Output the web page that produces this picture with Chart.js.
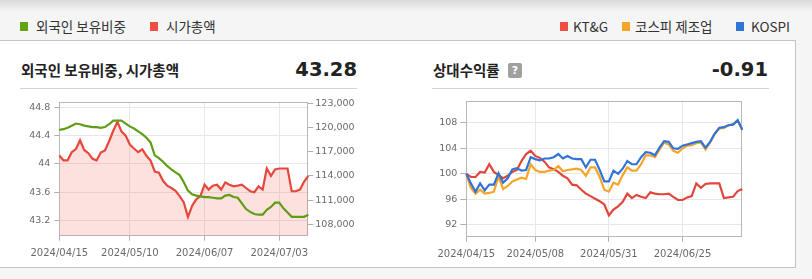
<!DOCTYPE html>
<html><head><meta charset="utf-8">
<script src="https://cdn.jsdelivr.net/npm/chart.js@4"></script>
<style>
html,body{margin:0;padding:0;}
body{width:812px;height:279px;background:#f5f5f5;position:relative;overflow:hidden;font-family:"Noto Sans CJK KR","Noto Sans",sans-serif;}
.shadow{position:absolute;left:0;top:0;width:812px;height:12px;background:linear-gradient(#dadada,#f5f5f5);}
.sq{position:absolute;width:8px;height:9px;top:22px;}
.lg{position:absolute;top:17px;font-size:13.5px;line-height:18px;color:#333;white-space:nowrap;}
.box{position:absolute;left:-1px;top:40px;width:795px;height:226px;background:#fff;border:1px solid #c3c3c3;}
.title{position:absolute;top:59px;font-weight:700;font-size:14.5px;line-height:22px;color:#222;white-space:nowrap;}
.value{position:absolute;top:56px;font-family:"DejaVu Sans",sans-serif;font-weight:700;font-size:19.5px;line-height:28px;color:#222;text-align:right;}
.sep{position:absolute;top:88px;height:1px;background:#d4d4d4;}
.q{position:absolute;left:508px;top:63px;width:14px;height:15px;background:#a0a0a0;border-radius:2px;color:#fff;font:bold 11px "DejaVu Sans",sans-serif;line-height:15px;text-align:center;}
canvas{position:absolute;}
</style>
</head>
<body>
<div class="shadow"></div>
<div class="sq" style="left:20px;background:#62a30f"></div><div class="lg" style="left:36px">외국인 보유비중</div>
<div class="sq" style="left:150px;background:#ee4f42"></div><div class="lg" style="left:166px">시가총액</div>
<div class="sq" style="left:560px;background:#ee4f42"></div><div class="lg" style="left:573px">KT&amp;G</div>
<div class="sq" style="left:622px;background:#f8a427"></div><div class="lg" style="left:635px">코스피 제조업</div>
<div class="sq" style="left:736px;background:#2f74d6"></div><div class="lg" style="left:751px">KOSPI</div>
<div class="box"></div>
<div class="title" style="left:21px">외국인 보유비중, 시가총액</div>
<div class="value" style="left:257px;width:100px">43.28</div>
<div class="sep" style="left:20px;width:337px"></div>
<div class="title" style="left:433px">상대수익률</div>
<div class="q">?</div>
<div class="value" style="left:668px;width:100px">-0.91</div>
<div class="sep" style="left:432px;width:337px"></div>
<canvas id="c1" width="400" height="175" style="left:0;top:92px"></canvas>
<canvas id="c2" width="412" height="175" style="left:400px;top:92px"></canvas>
<script>
const dates = ["2024/04/15","2024/04/16","2024/04/17","2024/04/18","2024/04/19","2024/04/22","2024/04/23","2024/04/24","2024/04/25","2024/04/26","2024/04/29","2024/04/30",
"2024/05/02","2024/05/03","2024/05/07","2024/05/08","2024/05/09","2024/05/10","2024/05/13","2024/05/14","2024/05/16","2024/05/17","2024/05/20","2024/05/21","2024/05/22","2024/05/23","2024/05/24","2024/05/27","2024/05/28","2024/05/29","2024/05/30","2024/05/31",
"2024/06/03","2024/06/04","2024/06/05","2024/06/07","2024/06/10","2024/06/11","2024/06/12","2024/06/13","2024/06/14","2024/06/17","2024/06/18","2024/06/19","2024/06/20","2024/06/21","2024/06/24","2024/06/25","2024/06/26","2024/06/27","2024/06/28",
"2024/07/01","2024/07/02","2024/07/03","2024/07/04","2024/07/05","2024/07/08","2024/07/09","2024/07/10","2024/07/11","2024/07/12"];

const foreignRatio = [44.48,44.49,44.51,44.54,44.57,44.56,44.54,44.53,44.52,44.52,
44.51,44.52,44.56,44.61,44.61,44.61,44.57,44.53,44.50,44.46,
44.42,44.37,44.30,44.12,44.08,44.03,43.97,43.92,43.88,43.84,
43.74,43.62,43.57,43.55,43.54,43.53,43.53,43.52,43.51,43.51,
43.55,43.56,43.53,43.52,43.44,43.36,43.32,43.29,43.28,43.28,
43.35,43.39,43.45,43.45,43.37,43.31,43.25,43.25,43.25,43.25,43.28];

const marketCap = [116540,115935,115935,116940,117339,118427,117218,116818,116129,115935,
116900,117150,118300,119600,120700,119500,119000,117900,117400,116940,
117300,116500,115900,114550,114400,113400,112800,112500,112150,111500,
110700,108900,110286,111097,111496,112911,112306,112790,112911,112306,
113190,112911,112706,112800,112911,112500,112101,111980,112706,112306,
114919,114000,114798,114919,114919,114919,112101,112101,112306,113310,114000];

const ktng = [100.0,99.5,99.5,100.3,100.2,101.5,100.3,99.8,99.3,99.7,
100.3,100.6,102.0,103.1,103.6,102.8,102.5,101.9,101.0,100.7,
100.3,99.7,99.3,98.3,98.2,97.5,96.9,96.5,96.1,95.7,
95.2,93.5,94.4,94.9,95.6,96.9,96.2,96.7,96.4,96.2,
97.1,96.9,96.8,96.8,96.9,96.4,95.9,95.9,96.3,96.5,
98.5,97.8,98.4,98.5,98.5,98.5,96.2,96.3,96.4,97.3,97.6];

const kospiMfg = [100.0,97.8,96.9,97.5,96.9,97.0,97.2,99.6,97.6,98.1,
98.8,99.1,99.4,99.2,101.5,100.6,100.3,100.3,100.5,100.6,
101.2,100.4,100.6,100.7,100.8,100.6,99.7,101.0,101.0,99.5,
97.5,97.2,98.6,98.3,99.8,101.0,100.5,100.5,101.5,102.9,
102.9,102.6,103.8,104.9,104.6,103.6,103.3,104.0,104.4,104.5,
104.8,104.9,103.8,104.9,106.2,107.1,107.2,107.6,107.8,108.3,106.9];

const kospi = [100.0,98.5,97.2,98.5,97.4,98.3,98.3,100.1,98.6,99.3,
100.7,100.9,100.5,100.6,102.6,102.3,102.1,102.4,102.4,102.6,
103.1,102.4,102.8,102.4,102.3,102.3,101.0,102.2,102.2,100.6,
98.8,98.8,100.5,100.0,100.8,102.0,101.5,101.5,102.6,103.4,
103.3,102.9,104.1,105.1,105.0,104.0,103.9,104.4,104.6,104.8,
105.0,105.1,104.1,105.0,106.3,107.2,107.3,107.6,107.7,108.4,106.9];

const leftDateTicks = ["2024/04/15","2024/05/10","2024/06/07","2024/07/03"];
const rightDateTicks = ["2024/04/15","2024/05/08","2024/05/31","2024/06/25"];
const ratioTicks = [43.2,43.6,44.0,44.4,44.8];
const capTicks = [108000,111000,114000,117000,120000,123000];
const returnTicks = [92,96,100,104,108];

const frame = {
  id:'frame',
  beforeDatasetsDraw(chart){
    const a = chart.chartArea, c = chart.ctx;
    c.save(); c.strokeStyle = '#b9b9b9'; c.lineWidth = 1;
    c.strokeRect(Math.round(a.left)+0.5, Math.round(a.top)+0.5, Math.round(a.right-a.left)-1, Math.round(a.bottom-a.top)-1);
    c.restore();
  }
};

const tickFont = {family:'DejaVu Sans', size:9.5};
const xFont = {family:'DejaVu Sans', size:10};
const gridCol = '#e8e8e8', tickCol = '#b0b0b0', labCol = '#6a6a6a';

function xScale(tickDates){
  return {
    type:'category',
    afterBuildTicks: s => { s.ticks = tickDates.map(d => ({value: dates.indexOf(d)})); },
    afterFit: s => { s.height = 26; },
    ticks:{font:xFont, color:labCol, padding:7, maxRotation:0, autoSkip:false, callback: v => dates[v]},
    grid:{color:gridCol, tickColor:tickCol, tickLength:5},
    border:{display:false}
  };
}

new Chart(document.getElementById('c1'), {
  type:'line',
  data:{
    labels: dates,
    datasets:[
      {data: foreignRatio, yAxisID:'y', borderColor:'#5f9e14', borderWidth:2.2, pointRadius:0, fill:false, order:0, tension:0},
      {data: marketCap, yAxisID:'y2', borderColor:'#e8483c', borderWidth:2.2, pointRadius:0, fill:'start', backgroundColor:'rgba(240,90,80,0.18)', order:1, tension:0}
    ]
  },
  options:{
    responsive:false, animation:false,
    layout:{padding:{left:0, right:31.7, top:6.3, bottom:5.3}},
    plugins:{legend:{display:false}, tooltip:{enabled:false}},
    scales:{
      x: xScale(leftDateTicks),
      y:{position:'left', min:42.983, max:44.879,
         afterBuildTicks: s => { s.ticks = ratioTicks.map(v => ({value:v})); },
         afterFit: s => { s.width = 59.3; },
         ticks:{font:tickFont, color:labCol, padding:4, callback: v => String(+v.toFixed(1))},
         grid:{color:gridCol, tickColor:tickCol, tickLength:5}, border:{display:false}},
      y2:{position:'right', min:106585, max:123206,
         afterBuildTicks: s => { s.ticks = capTicks.map(v => ({value:v})); },
         afterFit: s => { s.width = 60; },
         ticks:{font:tickFont, color:labCol, padding:2, callback: v => v.toLocaleString('en-US')},
         grid:{drawOnChartArea:false, tickColor:tickCol, tickLength:5}, border:{display:false}}
    }
  },
  plugins:[frame]
});

new Chart(document.getElementById('c2'), {
  type:'line',
  data:{
    labels: dates,
    datasets:[
      {data: kospi, borderColor:'#2f74d6', borderWidth:2.2, pointRadius:0, fill:false, order:0, tension:0},
      {data: kospiMfg, borderColor:'#f8a427', borderWidth:2.2, pointRadius:0, fill:false, order:1, tension:0},
      {data: ktng, borderColor:'#e2463b', borderWidth:2.2, pointRadius:0, fill:false, order:2, tension:0}
    ]
  },
  options:{
    responsive:false, animation:false,
    layout:{padding:{left:0, right:69.7, top:6.3, bottom:4.3}},
    plugins:{legend:{display:false}, tooltip:{enabled:false}},
    scales:{
      x: xScale(rightDateTicks),
      y:{position:'left', min:90.15, max:111.45,
         afterBuildTicks: s => { s.ticks = returnTicks.map(v => ({value:v})); },
         afterFit: s => { s.width = 66.3; },
         ticks:{font:tickFont, color:labCol, padding:3, callback: v => String(v)},
         grid:{color:gridCol, tickColor:tickCol, tickLength:6}, border:{display:false}}
    }
  },
  plugins:[frame]
});
</script>
</body></html>
